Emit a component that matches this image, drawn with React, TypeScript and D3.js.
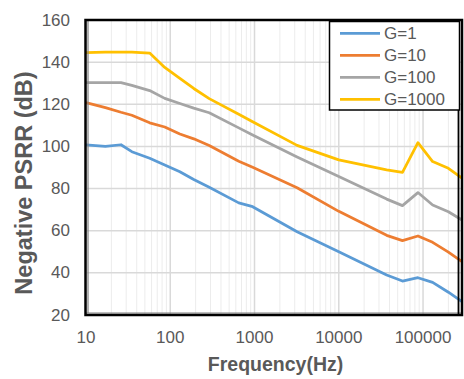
import React from "react";
import * as d3 from "d3";

const freqs = [10, 17, 26, 35, 57, 86, 130, 190, 290, 650, 950, 3200, 10000, 37000, 57000, 87000, 130000, 200000, 290000];
const g1 = [100.7, 100.0, 100.8, 97.5, 94.4, 91.2, 88.0, 84.3, 80.6, 73.2, 71.4, 59.5, 50.0, 39.0, 36.1, 37.7, 35.5, 30.8, 26.3];
const g10 = [120.8, 118.4, 116.2, 114.8, 111.2, 109.2, 105.9, 103.6, 100.4, 93.0, 90.1, 80.4, 69.2, 57.8, 55.3, 57.5, 54.5, 49.8, 45.3];
const g100 = [130.3, 130.3, 130.3, 129.0, 126.5, 122.8, 120.4, 118.2, 116.0, 108.8, 105.4, 95.0, 85.7, 75.0, 71.9, 78.1, 72.2, 69.0, 65.1];
const g1000 = [144.5, 144.7, 144.8, 144.7, 144.3, 137.5, 132.3, 127.5, 122.7, 115.3, 111.7, 100.5, 93.6, 88.9, 87.7, 101.8, 92.8, 89.6, 85.0];

const seriesNames = ["G=1", "G=10", "G=100", "G=1000"];
const seriesValues = [g1, g10, g100, g1000];
const seriesColors = ["#5B9BD5", "#ED7D31", "#A5A5A5", "#FFC000"];

const xTicks = [10, 100, 1000, 10000, 100000];
const yTicks = [20, 40, 60, 80, 100, 120, 140, 160];

const W = 464;
const H = 379;
const L = 86, R = 462, T = 20, B = 315;

export default function App() {
  const x = d3.scaleLog().domain([10, 290000]).range([L, R]);
  const y = d3.scaleLinear().domain([20, 160]).range([B, T]);

  const minor: number[] = [];
  for (let dec = 10; dec <= 100000; dec *= 10) {
    for (let m = 2; m <= 9; m++) {
      const v = dec * m;
      if (v < 290000) minor.push(v);
    }
  }

  const line = d3
    .line<number>()
    .x((_, i) => x(freqs[i]))
    .y((d) => y(d));

  const textColor = "#595959";
  const font = "Arial, 'Liberation Sans', sans-serif";

  return (
    <svg
      width={W}
      height={H}
      style={{ position: "absolute", left: 0, top: 0, background: "#fff" }}
      fontFamily={font}
    >
      <rect x={0} y={0} width={W} height={H} fill="#fff" />
      {/* minor gridlines */}
      {minor.map((v) => (
        <line key={"m" + v} x1={x(v)} x2={x(v)} y1={T} y2={B} stroke="#ececec" strokeWidth={1} />
      ))}
      {/* major gridlines */}
      {xTicks.map((v) => (
        <line key={"gx" + v} x1={x(v)} x2={x(v)} y1={T} y2={B} stroke="#d9d9d9" strokeWidth={1.5} />
      ))}
      {yTicks.map((v) => (
        <line key={"gy" + v} x1={L} x2={R} y1={y(v)} y2={y(v)} stroke="#d9d9d9" strokeWidth={1.5} />
      ))}
      {/* series */}
      {seriesValues.map((vals, i) => (
        <path
          key={seriesNames[i]}
          d={line(vals) || ""}
          fill="none"
          stroke={seriesColors[i]}
          strokeWidth={2.75}
          strokeLinejoin="round"
        />
      ))}
      {/* frame */}
      <line x1={L + 2} x2={L + 2} y1={T} y2={B - 2} stroke="#7f7f7f" strokeWidth={1.2} />
      <line x1={L} x2={R} y1={B - 2} y2={B - 2} stroke="#7f7f7f" strokeWidth={1.2} />
      <rect x={L - 0.5} y={T} width={R - L + 0.5} height={B - T} fill="none" stroke="#000" strokeWidth={2.5} />
      <line x1={R - 3.5} x2={R - 3.5} y1={T} y2={B} stroke="#000" strokeWidth={1.8} />
      {/* y tick labels */}
      {yTicks.map((v) => (
        <text
          key={"ty" + v}
          x={70}
          y={y(v)}
          textAnchor="end"
          dominantBaseline="central"
          fontSize={17}
          fill={textColor}
        >
          {v}
        </text>
      ))}
      {/* x tick labels */}
      {xTicks.map((v) => (
        <text key={"tx" + v} x={x(v)} y={343} textAnchor="middle" fontSize={17} fill={textColor}>
          {v}
        </text>
      ))}
      {/* axis titles */}
      <text x={275.5} y={371} textAnchor="middle" fontSize={19.5} fontWeight="bold" fill={textColor}>
        Frequency(Hz)
      </text>
      <text
        transform={`translate(32,183) rotate(-90)`}
        textAnchor="middle"
        fontSize={23.5}
        fontWeight="bold"
        fill={textColor}
      >
        Negative PSRR (dB)
      </text>
      {/* legend */}
      <rect x={329.5} y={21.5} width={130} height={88.5} fill="#fff" stroke="#000" strokeWidth={1.5} />
      {seriesNames.map((name, i) => {
        const ly = 33.3 + i * 22;
        return (
          <g key={"lg" + name}>
            <line x1={340} x2={380} y1={ly} y2={ly} stroke={seriesColors[i]} strokeWidth={2.75} />
            <text x={384} y={ly} dominantBaseline="central" fontSize={17} fill={textColor}>
              {name}
            </text>
          </g>
        );
      })}
    </svg>
  );
}
